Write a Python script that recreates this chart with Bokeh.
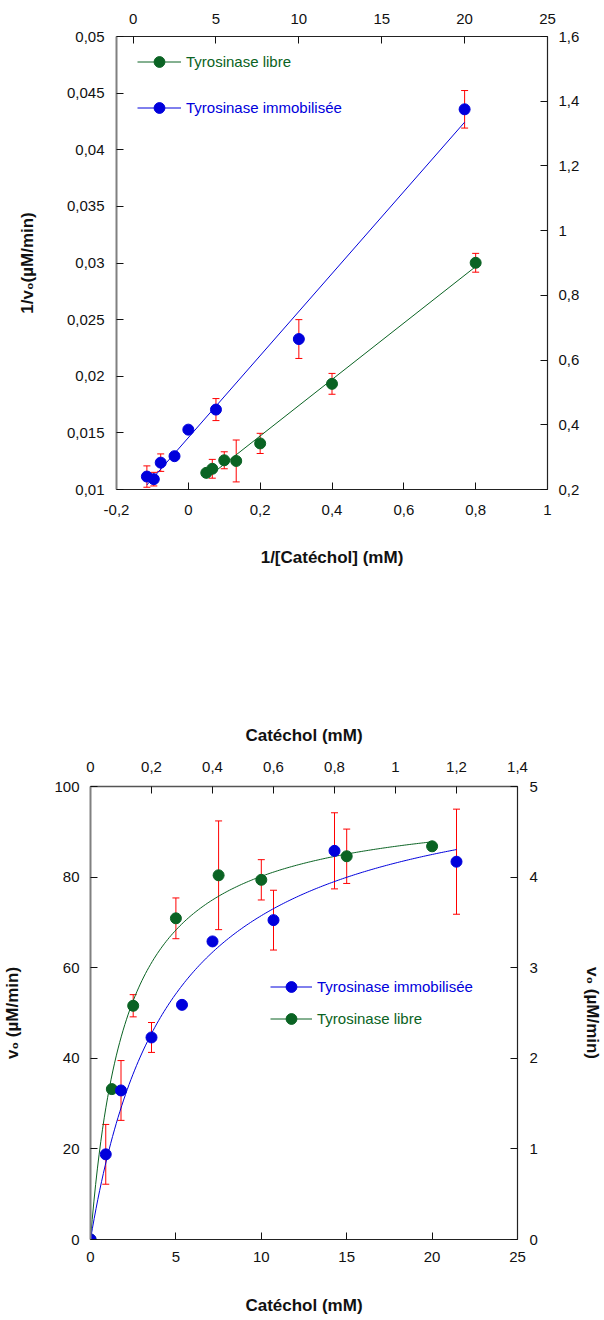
import numpy as np
from bokeh.plotting import figure
from bokeh.models import (Range1d, LinearAxis, FixedTicker, CustomJSTickFormatter,
                          Whisker, TeeHead, ColumnDataSource, Legend, LegendItem)
from bokeh.layouts import column
from bokeh.embed import file_html
from bokeh.resources import INLINE

# ---------------- data : Lineweaver-Burk (top chart) ----------------
# Tyrosinase libre : x = 1/[Catéchol] (bottom axis), y = 1/v0 (left axis)
lb_libre_x = [0.05, 0.0667, 0.1, 0.1333, 0.2, 0.4, 0.8]
lb_libre_y = [0.01147, 0.01183, 0.01258, 0.01252, 0.01407, 0.01933, 0.03002]
lb_libre_err = [0, 0.00083, 0.00075, 0.00185, 0.00089, 0.00092, 0.00083]
# Tyrosinase immobilisée : x = 1/[Catéchol] (top axis), y = 1/v0 (right axis)
lb_immob_x = [0.833, 1.25, 1.667, 2.5, 3.333, 5, 10, 20]
lb_immob_y = [0.240, 0.232, 0.283, 0.303, 0.385, 0.447, 0.665, 1.375]
lb_immob_err = [0.033, 0.021, 0.027, 0, 0, 0.034, 0.060, 0.058]

# ---------------- data : Michaelis-Menten (bottom chart) ----------------
# Tyrosinase libre : [Catéchol] mM (bottom axis), v0 (left axis)
mm_libre_s = [0, 1.25, 2.5, 5, 7.5, 10, 15, 20]
mm_libre_v = [0, 33.2, 51.6, 70.9, 80.4, 79.4, 84.6, 86.8]
mm_libre_err = [0, 0, 2.45, 4.5, 12.0, 4.45, 6.0, 0]
# Tyrosinase immobilisée : [Catéchol] mM (top axis), v0 (right axis)
mm_immob_s = [0, 0.05, 0.1, 0.2, 0.3, 0.4, 0.6, 0.8, 1.2]
mm_immob_v = [0, 0.94, 1.645, 2.23, 2.59, 3.29, 3.525, 4.29, 4.17]
mm_immob_err = [0, 0.33, 0.33, 0.165, 0, 0, 0.33, 0.42, 0.58]
# fitted hyperbola parameters
libre_vmax, libre_km = 97.0, 2.1
immob_vmax, immob_km = 5.24, 0.261

# ---------------- ticks ----------------
t1_bottom = [-0.2, 0, 0.2, 0.4, 0.6, 0.8, 1.0]
t1_top = [0, 5, 10, 15, 20, 25]
t1_left = [0.01, 0.015, 0.02, 0.025, 0.03, 0.035, 0.04, 0.045, 0.05]
t1_right = [0.2, 0.4, 0.6, 0.8, 1.0, 1.2, 1.4, 1.6]
t2_bottom = [0, 5, 10, 15, 20, 25]
t2_top = [0, 0.2, 0.4, 0.6, 0.8, 1.0, 1.2, 1.4]
t2_left = [0, 20, 40, 60, 80, 100]
t2_right = [0, 1, 2, 3, 4, 5]

GREEN = "#0a6323"
BLUE = "#0000dc"
FONT = "Liberation Sans"

fmt_code = """
var s = tick.toFixed(3);
s = s.replace(/0+$/, '').replace(/\\.$/, '');
if (s === '-0') { s = '0'; }
return s.replace('.', ',');
"""


def style_axis(ax, ticks, standoff, line_color="#222222", line_width=1.2):
    ax.ticker = FixedTicker(ticks=ticks)
    ax.formatter = CustomJSTickFormatter(code=fmt_code)
    ax.major_tick_in = 7
    ax.major_tick_out = 0
    ax.major_tick_line_color = "#111111"
    ax.minor_tick_line_color = None
    ax.axis_line_color = line_color
    ax.axis_line_width = line_width
    ax.major_label_standoff = standoff
    ax.major_label_text_font = FONT
    ax.major_label_text_font_size = "15px"
    ax.major_label_text_color = "#111111"
    ax.axis_label_text_font = FONT
    ax.axis_label_text_font_size = "17px"
    ax.axis_label_text_font_style = "bold"
    ax.axis_label_text_color = "#111111"


def whiskers(p, xs, ys, errs, **kw):
    bx = [x for x, e in zip(xs, errs) if e > 0]
    up = [y + e for y, e in zip(ys, errs) if e > 0]
    lo = [y - e for y, e in zip(ys, errs) if e > 0]
    src = ColumnDataSource(dict(base=bx, upper=up, lower=lo))
    w = Whisker(source=src, base="base", upper="upper", lower="lower", dimension="height",
                line_color="red", line_width=1,
                upper_head=TeeHead(size=7, line_color="red", line_width=1),
                lower_head=TeeHead(size=7, line_color="red", line_width=1), **kw)
    p.add_layout(w)


def make_legend(p, label, renderers, color, loc, gw):
    leg = Legend(items=[LegendItem(label=label, renderers=renderers)], location=loc,
                 glyph_width=gw, glyph_height=27, label_height=27, label_standoff=5,
                 padding=0, spacing=0, margin=0, border_line_color=None,
                 background_fill_alpha=0, label_text_font=FONT,
                 label_text_font_size="15px", label_text_color=color)
    p.add_layout(leg)


# =================== top chart : Lineweaver-Burk ===================
p1 = figure(width=604, height=600, x_range=Range1d(-0.2, 1.0), y_range=Range1d(0.01, 0.05),
            output_backend="svg", toolbar_location=None,
            min_border_left=116, min_border_right=57, min_border_top=36, min_border_bottom=111)
p1.frame_align = False
p1.extra_x_ranges = {"top": Range1d(-1, 25)}
p1.extra_y_ranges = {"right": Range1d(0.2, 1.6)}
ax_bottom1 = p1.below[0]
ax_left1 = p1.left[0]
ax_top1 = LinearAxis(x_range_name="top")
ax_right1 = LinearAxis(y_range_name="right")
p1.add_layout(ax_top1, "above")
p1.add_layout(ax_right1, "right")
p1.grid.visible = False
p1.outline_line_color = None
p1.background_fill_color = "white"
p1.border_fill_color = "white"

style_axis(ax_bottom1, t1_bottom, 15)
style_axis(ax_left1, t1_left, 12, line_color="#808080", line_width=2)
style_axis(ax_top1, t1_top, 13)
style_axis(ax_right1, t1_right, 11)
ax_bottom1.axis_label = "1/[Catéchol] (mM)"
ax_bottom1.axis_label_standoff = 30
ax_left1.axis_label = "1/v₀(µM/min)"
ax_left1.axis_label_standoff = 27

whiskers(p1, lb_libre_x, lb_libre_y, lb_libre_err)
whiskers(p1, lb_immob_x, lb_immob_y, lb_immob_err, x_range_name="top", y_range_name="right")

# linear regressions
a_l, b_l = np.polyfit(lb_libre_x, lb_libre_y, 1)
fx_l = np.array([min(lb_libre_x), max(lb_libre_x)])
a_i, b_i = np.polyfit(lb_immob_x, lb_immob_y, 1)
fx_i = np.array([min(lb_immob_x), max(lb_immob_x)])

l_line1 = p1.line(fx_l, a_l * fx_l + b_l, line_color=GREEN, line_width=1)
l_pts1 = p1.scatter(lb_libre_x, lb_libre_y, size=11, fill_color=GREEN, line_color=GREEN)
i_line1 = p1.line(fx_i, a_i * fx_i + b_i, line_color=BLUE, line_width=1,
                  x_range_name="top", y_range_name="right")
i_pts1 = p1.scatter(lb_immob_x, lb_immob_y, size=11, fill_color=BLUE, line_color=BLUE,
                    x_range_name="top", y_range_name="right")

make_legend(p1, "Tyrosinase libre", [l_line1, l_pts1], GREEN, (21, 414), 44)
make_legend(p1, "Tyrosinase immobilisée", [i_line1, i_pts1], BLUE, (21, 368), 44)

# =================== bottom chart : Michaelis-Menten ===================
p2 = figure(width=604, height=720, x_range=Range1d(0, 25), y_range=Range1d(0, 100),
            output_backend="svg", toolbar_location=None,
            min_border_left=88, min_border_right=85, min_border_top=186, min_border_bottom=81)
p2.frame_align = False
p2.extra_x_ranges = {"top": Range1d(0, 1.4)}
p2.extra_y_ranges = {"right": Range1d(0, 5)}
ax_bottom2 = p2.below[0]
ax_left2 = p2.left[0]
ax_top2 = LinearAxis(x_range_name="top")
ax_right2 = LinearAxis(y_range_name="right")
p2.add_layout(ax_top2, "above")
p2.add_layout(ax_right2, "right")
p2.grid.visible = False
p2.outline_line_color = None
p2.background_fill_color = "white"
p2.border_fill_color = "white"

style_axis(ax_bottom2, t2_bottom, 12)
style_axis(ax_left2, t2_left, 11, line_color="#808080", line_width=2)
style_axis(ax_top2, t2_top, 15, line_color="#555555", line_width=1.5)
style_axis(ax_right2, t2_right, 12)
ax_bottom2.axis_label = "Catéchol (mM)"
ax_bottom2.axis_label_standoff = 31
ax_top2.axis_label = "Catéchol (mM)"
ax_top2.axis_label_standoff = 14
ax_right2.axis_label = "v₀ (µM/min)"
ax_right2.axis_label_standoff = 42
ax_left2.axis_label = "v₀ (µM/min)"
ax_left2.axis_label_standoff = 29

whiskers(p2, mm_libre_s, mm_libre_v, mm_libre_err)
whiskers(p2, mm_immob_s, mm_immob_v, mm_immob_err, x_range_name="top", y_range_name="right")

s_l = np.linspace(0, max(mm_libre_s), 200)
s_i = np.linspace(0, max(mm_immob_s), 200)
l_line2 = p2.line(s_l, libre_vmax * s_l / (libre_km + s_l), line_color=GREEN, line_width=1)
l_pts2 = p2.scatter(mm_libre_s, mm_libre_v, size=11, fill_color=GREEN, line_color=GREEN)
i_line2 = p2.line(s_i, immob_vmax * s_i / (immob_km + s_i), line_color=BLUE, line_width=1,
                  x_range_name="top", y_range_name="right")
i_pts2 = p2.scatter(mm_immob_s, mm_immob_v, size=11, fill_color=BLUE, line_color=BLUE,
                    x_range_name="top", y_range_name="right")

make_legend(p2, "Tyrosinase immobilisée", [i_line2, i_pts2], BLUE, (180, 239), 42)
make_legend(p2, "Tyrosinase libre", [l_line2, l_pts2], GREEN, (180, 207), 42)

layout = column(p1, p2, spacing=0)
open("out.html", "w").write(file_html(layout, INLINE))
